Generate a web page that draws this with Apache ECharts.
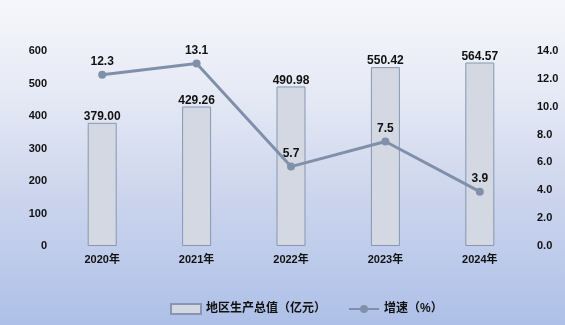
<!DOCTYPE html>
<html><head><meta charset="utf-8">
<script src="https://cdn.jsdelivr.net/npm/echarts@6/dist/echarts.min.js"></script>
<style>html,body{margin:0;padding:0;}#c{width:565px;height:325px;}</style>
</head><body><div id="c"></div>
<script>
const categories = ['2020年','2021年','2022年','2023年','2024年'];
const gdp = [379.00, 429.26, 490.98, 550.42, 564.57];
const growth = [12.3, 13.1, 5.7, 7.5, 3.9];
const gdpName = '地区生产总值（亿元）';
const growthName = '增速（%）';

const chart = echarts.init(document.getElementById('c'));
const font = {fontFamily: 'Liberation Sans, Noto Sans CJK SC', fontWeight: 'bold', fontSize: 11, color: '#111'};
chart.setOption({
  backgroundColor: new echarts.graphic.LinearGradient(0,0,0,1,[
    {offset:0,color:'#f6f7fb'},{offset:0.3,color:'#e5e9f5'},{offset:0.6,color:'#ccd5ed'},{offset:1,color:'#aec0e8'}]),
  animation:false,
  grid:{left:55,right:38,top:51,bottom:79},
  legend:{
    bottom:5, left:165, itemGap:22, itemWidth:30, itemHeight:10,
    textStyle:Object.assign({}, font, {fontSize:12}),
    data:[{name:gdpName, icon:'rect'},{name:growthName}]
  },
  xAxis:{
    type:'category', data:categories,
    axisLine:{show:false}, axisTick:{show:false},
    axisLabel:Object.assign({}, font, {margin:8})
  },
  yAxis:[
    {type:'value', min:0, max:600, interval:100, splitLine:{show:false},
     axisLabel:Object.assign({}, font, {margin:8})},
    {type:'value', min:0, max:14, interval:2, splitLine:{show:false},
     axisLabel:Object.assign({}, font, {margin:10, formatter:v=>v.toFixed(1)})}
  ],
  series:[
    {name:gdpName, type:'bar', data:gdp, barWidth:29,
     itemStyle:{color:'#d3d8e3', borderColor:'#8797b3', borderWidth:1},
     label:{show:true, position:'top', distance:0, formatter:p=>p.value.toFixed(2),
       fontFamily:'Liberation Sans', fontWeight:'bold', fontSize:12, color:'#111'}},
    {name:growthName, type:'line', yAxisIndex:1, data:growth,
     symbol:'circle', symbolSize:8,
     lineStyle:{color:'#8190aa', width:3}, itemStyle:{color:'#8190aa'},
     label:{show:true, position:'top', distance:3, formatter:p=>p.value.toFixed(1),
       fontFamily:'Liberation Sans', fontWeight:'bold', fontSize:12, color:'#111'}}
  ]
});
</script></body></html>
